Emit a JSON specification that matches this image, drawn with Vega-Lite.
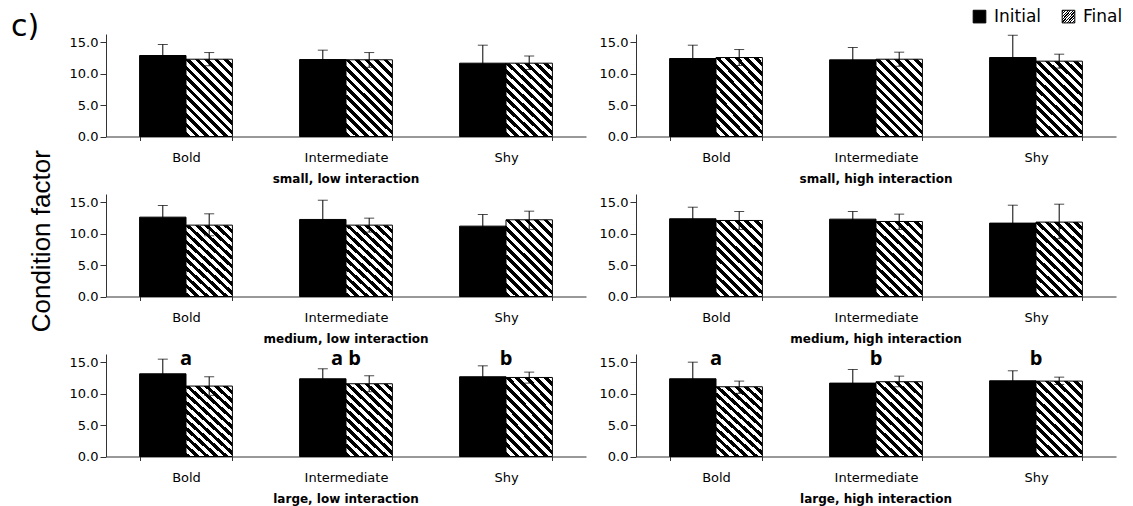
{
  "$schema": "https://vega.github.io/schema/vega-lite/v6.json",
  "padding": {"left": 11, "right": 5, "top": 8, "bottom": 3},
  "background": "white",
  "title": {"text": "c)", "orient": "top", "anchor": "start", "frame": "bounds", "font": "DejaVu Sans", "fontSize": 30, "fontWeight": "normal", "color": "black", "offset": -34, "dx": -18},
  "config": {"view": {"stroke": null}},
  "data": {"values": [
    {"cond": "small, low interaction", "behav": "Bold", "stage": "Initial", "mean": 12.88, "hi": 14.63, "lo": 11.13},
    {"cond": "small, low interaction", "behav": "Bold", "stage": "Final", "mean": 12.29, "hi": 13.35, "lo": 11.25},
    {"cond": "small, low interaction", "behav": "Intermediate", "stage": "Initial", "mean": 12.24, "hi": 13.73, "lo": 10.75},
    {"cond": "small, low interaction", "behav": "Intermediate", "stage": "Final", "mean": 12.2, "hi": 13.35, "lo": 11.0},
    {"cond": "small, low interaction", "behav": "Shy", "stage": "Initial", "mean": 11.66, "hi": 14.52, "lo": 8.8},
    {"cond": "small, low interaction", "behav": "Shy", "stage": "Final", "mean": 11.66, "hi": 12.8, "lo": 10.65},
    {"cond": "small, high interaction", "behav": "Bold", "stage": "Initial", "mean": 12.4, "hi": 14.52, "lo": 10.28},
    {"cond": "small, high interaction", "behav": "Bold", "stage": "Final", "mean": 12.56, "hi": 13.83, "lo": 11.29},
    {"cond": "small, high interaction", "behav": "Intermediate", "stage": "Initial", "mean": 12.19, "hi": 14.15, "lo": 10.23},
    {"cond": "small, high interaction", "behav": "Intermediate", "stage": "Final", "mean": 12.29, "hi": 13.41, "lo": 11.17},
    {"cond": "small, high interaction", "behav": "Shy", "stage": "Initial", "mean": 12.56, "hi": 16.1, "lo": 9.02},
    {"cond": "small, high interaction", "behav": "Shy", "stage": "Final", "mean": 11.98, "hi": 13.09, "lo": 10.87},
    {"cond": "medium, low interaction", "behav": "Bold", "stage": "Initial", "mean": 12.62, "hi": 14.47, "lo": 10.77},
    {"cond": "medium, low interaction", "behav": "Bold", "stage": "Final", "mean": 11.35, "hi": 13.15, "lo": 9.66},
    {"cond": "medium, low interaction", "behav": "Intermediate", "stage": "Initial", "mean": 12.25, "hi": 15.31, "lo": 9.19},
    {"cond": "medium, low interaction", "behav": "Intermediate", "stage": "Final", "mean": 11.35, "hi": 12.46, "lo": 10.24},
    {"cond": "medium, low interaction", "behav": "Shy", "stage": "Initial", "mean": 11.19, "hi": 13.04, "lo": 9.34},
    {"cond": "medium, low interaction", "behav": "Shy", "stage": "Final", "mean": 12.2, "hi": 13.57, "lo": 10.67},
    {"cond": "medium, high interaction", "behav": "Bold", "stage": "Initial", "mean": 12.36, "hi": 14.2, "lo": 10.52},
    {"cond": "medium, high interaction", "behav": "Bold", "stage": "Final", "mean": 12.09, "hi": 13.52, "lo": 10.67},
    {"cond": "medium, high interaction", "behav": "Intermediate", "stage": "Initial", "mean": 12.3, "hi": 13.52, "lo": 11.08},
    {"cond": "medium, high interaction", "behav": "Intermediate", "stage": "Final", "mean": 11.93, "hi": 13.1, "lo": 10.67},
    {"cond": "medium, high interaction", "behav": "Shy", "stage": "Initial", "mean": 11.67, "hi": 14.52, "lo": 8.82},
    {"cond": "medium, high interaction", "behav": "Shy", "stage": "Final", "mean": 11.83, "hi": 14.68, "lo": 9.19},
    {"cond": "large, low interaction", "behav": "Bold", "stage": "Initial", "mean": 13.15, "hi": 15.48, "lo": 10.82, "letter": "a"},
    {"cond": "large, low interaction", "behav": "Bold", "stage": "Final", "mean": 11.2, "hi": 12.68, "lo": 9.72},
    {"cond": "large, low interaction", "behav": "Intermediate", "stage": "Initial", "mean": 12.36, "hi": 13.95, "lo": 10.77, "letter": "a b"},
    {"cond": "large, low interaction", "behav": "Intermediate", "stage": "Final", "mean": 11.57, "hi": 12.84, "lo": 10.3},
    {"cond": "large, low interaction", "behav": "Shy", "stage": "Initial", "mean": 12.68, "hi": 14.42, "lo": 10.94, "letter": "b"},
    {"cond": "large, low interaction", "behav": "Shy", "stage": "Final", "mean": 12.57, "hi": 13.42, "lo": 11.67},
    {"cond": "large, high interaction", "behav": "Bold", "stage": "Initial", "mean": 12.36, "hi": 15.0, "lo": 9.72, "letter": "a"},
    {"cond": "large, high interaction", "behav": "Bold", "stage": "Final", "mean": 11.09, "hi": 11.99, "lo": 10.04},
    {"cond": "large, high interaction", "behav": "Intermediate", "stage": "Initial", "mean": 11.67, "hi": 13.84, "lo": 9.5, "letter": "b"},
    {"cond": "large, high interaction", "behav": "Intermediate", "stage": "Final", "mean": 11.89, "hi": 12.78, "lo": 11.09},
    {"cond": "large, high interaction", "behav": "Shy", "stage": "Initial", "mean": 12.04, "hi": 13.63, "lo": 10.45, "letter": "b"},
    {"cond": "large, high interaction", "behav": "Shy", "stage": "Final", "mean": 11.99, "hi": 12.62, "lo": 11.46}
  ]},
  "vconcat": [
    {
      "title": {"text": "Condition factor", "orient": "left", "anchor": "middle", "font": "Liberation Sans", "fontSize": 26, "fontWeight": "normal", "color": "black", "offset": 14, "dx": 28},
      "facet": {
        "field": "cond", "type": "nominal",
        "sort": ["small, low interaction", "small, high interaction", "medium, low interaction", "medium, high interaction", "large, low interaction", "large, high interaction"],
        "header": {
          "title": null,
          "labelOrient": "bottom", "labelFont": "DejaVu Sans", "labelFontSize": 12, "labelFontWeight": "bold", "labelColor": "black", "labelPadding": 9
        }
      },
      "columns": 2,
      "spacing": {"row": 4, "column": 13},
      "resolve": {"axis": {"x": "independent", "y": "independent"}},
      "spec": {
        "width": 480,
        "height": 102.5,
        "encoding": {
          "x": {"field": "behav", "type": "nominal", "sort": ["Bold", "Intermediate", "Shy"],
            "scale": {"paddingInner": 0.42, "paddingOuter": 0.21},
            "axis": {"title": null, "labelAngle": 0, "labelFont": "DejaVu Sans", "labelFontSize": 13, "labelColor": "black", "labelPadding": 11, "tickSize": 4, "tickBand": "extent", "domainColor": "#333", "tickColor": "#333"}
          }
        },
        "layer": [
          {
            "mark": {"type": "bar", "stroke": "black", "strokeWidth": 1},
            "encoding": {
              "xOffset": {"field": "stage", "type": "nominal", "sort": ["Initial", "Final"]},
              "y": {"field": "mean", "type": "quantitative", "scale": {"domain": [0, 16.3], "nice": false},
                "axis": {"title": null, "values": [0, 5, 10, 15], "tickCount": 4, "labelOverlap": false, "format": ".1f", "grid": false, "labelFont": "DejaVu Sans", "labelFontSize": 13, "labelColor": "black", "labelPadding": 2, "tickSize": 6, "domainColor": "#333", "tickColor": "#333"}},
              "fill": {"field": "stage", "type": "nominal",
                "scale": {"domain": ["Initial", "Final"], "range": ["#000000", {"expr": "{gradient:'linear',x1:0,y1:1,x2:0.706,y2:-0.176,stops:[{offset:0,color:'#000'},{offset:0.0385,color:'#000'},{offset:0.0385,color:'#fff'},{offset:0.0769,color:'#fff'},{offset:0.0769,color:'#000'},{offset:0.1154,color:'#000'},{offset:0.1154,color:'#fff'},{offset:0.1538,color:'#fff'},{offset:0.1538,color:'#000'},{offset:0.1923,color:'#000'},{offset:0.1923,color:'#fff'},{offset:0.2308,color:'#fff'},{offset:0.2308,color:'#000'},{offset:0.2692,color:'#000'},{offset:0.2692,color:'#fff'},{offset:0.3077,color:'#fff'},{offset:0.3077,color:'#000'},{offset:0.3462,color:'#000'},{offset:0.3462,color:'#fff'},{offset:0.3846,color:'#fff'},{offset:0.3846,color:'#000'},{offset:0.4231,color:'#000'},{offset:0.4231,color:'#fff'},{offset:0.4615,color:'#fff'},{offset:0.4615,color:'#000'},{offset:0.5,color:'#000'},{offset:0.5,color:'#fff'},{offset:0.5385,color:'#fff'},{offset:0.5385,color:'#000'},{offset:0.5769,color:'#000'},{offset:0.5769,color:'#fff'},{offset:0.6154,color:'#fff'},{offset:0.6154,color:'#000'},{offset:0.6538,color:'#000'},{offset:0.6538,color:'#fff'},{offset:0.6923,color:'#fff'},{offset:0.6923,color:'#000'},{offset:0.7308,color:'#000'},{offset:0.7308,color:'#fff'},{offset:0.7692,color:'#fff'},{offset:0.7692,color:'#000'},{offset:0.8077,color:'#000'},{offset:0.8077,color:'#fff'},{offset:0.8462,color:'#fff'},{offset:0.8462,color:'#000'},{offset:0.8846,color:'#000'},{offset:0.8846,color:'#fff'},{offset:0.9231,color:'#fff'},{offset:0.9231,color:'#000'},{offset:0.9615,color:'#000'},{offset:0.9615,color:'#fff'},{offset:1,color:'#fff'}]}"}]},
                "legend": {"orient": "none", "legendX": 865, "legendY": -26, "direction": "horizontal", "title": null, "symbolType": "square", "symbolSize": 160, "symbolStrokeColor": "black", "symbolStrokeWidth": 1, "labelFont": "DejaVu Sans", "labelFontSize": 17, "labelColor": "black", "labelOffset": 6, "columnPadding": 18}
              }
            }
          },
          {
            "mark": {"type": "rule", "color": "black", "strokeWidth": 1},
            "encoding": {
              "xOffset": {"field": "stage", "type": "nominal", "sort": ["Initial", "Final"]},
              "y": {"field": "lo", "type": "quantitative"},
              "y2": {"field": "hi"}
            }
          },
          {
            "mark": {"type": "tick", "color": "black", "thickness": 1, "size": 10},
            "encoding": {
              "xOffset": {"field": "stage", "type": "nominal", "sort": ["Initial", "Final"]},
              "y": {"field": "hi", "type": "quantitative"}
            }
          },
          {
            "mark": {"type": "tick", "color": "black", "thickness": 1, "size": 10},
            "encoding": {
              "xOffset": {"field": "stage", "type": "nominal", "sort": ["Initial", "Final"]},
              "y": {"field": "lo", "type": "quantitative"}
            }
          },
          {
            "transform": [{"filter": "isValid(datum.letter)"}],
            "mark": {"type": "text", "font": "Open Sans", "fontWeight": "bold", "fontSize": 20, "baseline": "alphabetic", "color": "black"},
            "encoding": {
              "y": {"datum": 14.5, "type": "quantitative"},
              "text": {"field": "letter"}
            }
          }
        ]
      }
    }
  ]
}
